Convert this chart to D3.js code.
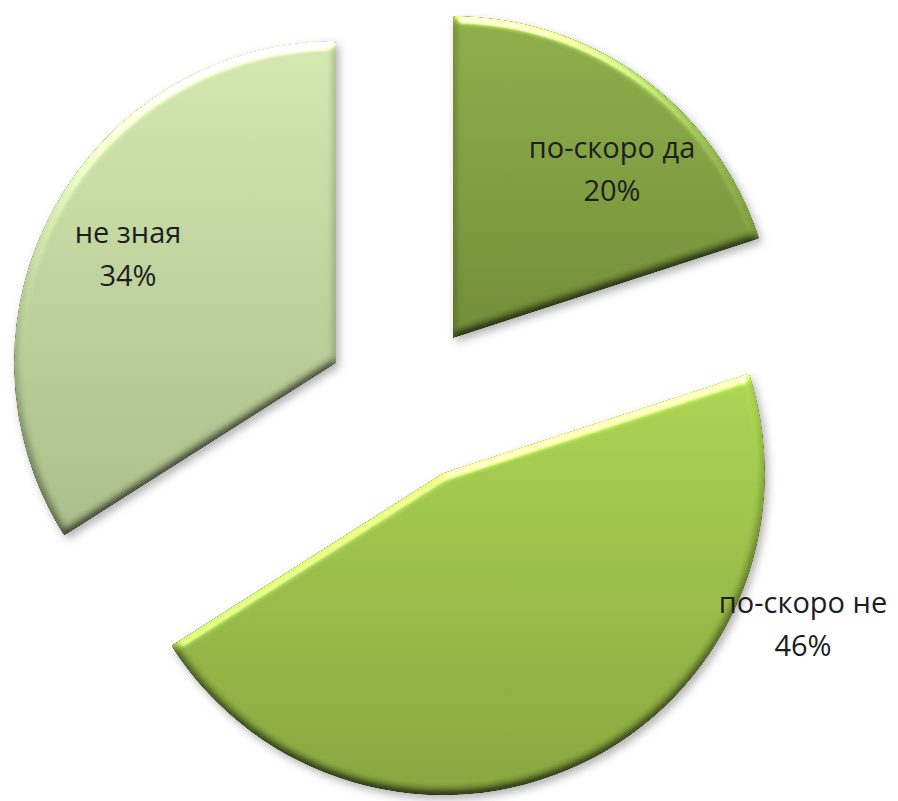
<!DOCTYPE html>
<html>
<head>
<meta charset="utf-8">
<script src="https://cdn.jsdelivr.net/npm/d3@7"></script>
<style>
  html, body { margin: 0; padding: 0; background: #ffffff; }
  svg { display: block; }
</style>
</head>
<body>
<svg id="chart" width="898" height="801"></svg>
<script>
// Survey answers and their shares (%)
const categories = ["по-скоро да", "по-скоро не", "не зная"];
const shares = [20, 46, 34];

// Layout
const width = 898, height = 801;
const radius = 322;
const center = [406, 403];
// each slice is pulled away from the pie centre by its own offset
const explodeOffsets = [[47, -65], [37, 70], [-70, -40]];
// label anchor (first line baseline) relative to the slice origin
const labelOffsets = [[159, -180], [360, 140], [-208, -120]];
const lineGap = 43;
// top/bottom gradient stops per slice
const fillStops = [
  ["#8aab46", "#6d8a35"],
  ["#a8d050", "#83a23c"],
  ["#d0e3ac", "#a6b986"]
];

const svg = d3.select("#chart");
const defs = svg.append("defs");

// Soft bevel + drop shadow
const f = defs.append("filter")
  .attr("id", "bevel")
  .attr("x", "-10%").attr("y", "-10%")
  .attr("width", "125%").attr("height", "125%")
  .attr("color-interpolation-filters", "sRGB");
f.append("feGaussianBlur").attr("in", "SourceAlpha").attr("stdDeviation", 4).attr("result", "blur");
const diff = f.append("feDiffuseLighting")
  .attr("in", "blur").attr("surfaceScale", 3).attr("diffuseConstant", 1)
  .attr("lighting-color", "#ffffff").attr("result", "diff");
diff.append("feDistantLight").attr("azimuth", 270).attr("elevation", 45);
f.append("feComposite").attr("in", "diff").attr("in2", "SourceAlpha").attr("operator", "in").attr("result", "diffIn");
f.append("feComposite").attr("in", "SourceGraphic").attr("in2", "diffIn")
  .attr("operator", "arithmetic").attr("k1", 1.414).attr("k2", 0).attr("k3", 0).attr("k4", 0)
  .attr("result", "lit");
const spec = f.append("feSpecularLighting")
  .attr("in", "blur").attr("surfaceScale", 5).attr("specularConstant", 0.6)
  .attr("specularExponent", 24).attr("lighting-color", "#ffffff").attr("result", "spec");
spec.append("feDistantLight").attr("azimuth", 270).attr("elevation", 30);
f.append("feComposite").attr("in", "spec").attr("in2", "SourceAlpha").attr("operator", "in").attr("result", "specIn");
f.append("feComposite").attr("in", "lit").attr("in2", "specIn")
  .attr("operator", "arithmetic").attr("k1", 0).attr("k2", 1).attr("k3", 1).attr("k4", 0)
  .attr("result", "bev");
f.append("feGaussianBlur").attr("in", "SourceAlpha").attr("stdDeviation", 4).attr("result", "sblur");
f.append("feOffset").attr("in", "sblur").attr("dx", 3).attr("dy", 4).attr("result", "soff");
f.append("feFlood").attr("flood-color", "#000000").attr("flood-opacity", 0.3).attr("result", "scol");
f.append("feComposite").attr("in", "scol").attr("in2", "soff").attr("operator", "in").attr("result", "shadow");
const merge = f.append("feMerge");
merge.append("feMergeNode").attr("in", "shadow");
merge.append("feMergeNode").attr("in", "bev");

fillStops.forEach((stops, i) => {
  const g = defs.append("linearGradient")
    .attr("id", "grad" + i)
    .attr("x1", 0).attr("y1", 0).attr("x2", 0).attr("y2", 1);
  g.append("stop").attr("offset", "0%").attr("stop-color", stops[0]);
  g.append("stop").attr("offset", "100%").attr("stop-color", stops[1]);
});

const data = categories.map((c, i) => ({ category: c, value: shares[i], index: i }));

const pie = d3.pie().sort(null).value(d => d.value).startAngle(0).endAngle(2 * Math.PI);
const arc = d3.arc().innerRadius(0).outerRadius(radius).cornerRadius(2);
const arcs = pie(data);

const slices = svg.append("g")
  .attr("transform", `translate(${center[0]},${center[1]})`)
  .selectAll("g.slice")
  .data(arcs)
  .join("g")
  .attr("class", "slice")
  .attr("transform", d => `translate(${explodeOffsets[d.index][0]},${explodeOffsets[d.index][1]})`);

slices.append("path")
  .attr("d", arc)
  .attr("fill", d => `url(#grad${d.index})`)
  .attr("filter", "url(#bevel)");

const labels = slices.append("text")
  .attr("text-anchor", "middle")
  .attr("font-family", "'Open Sans', 'Noto Sans', sans-serif")
  .attr("font-size", 29)
  .attr("fill", "#1e1e1e");

labels.append("tspan")
  .attr("x", d => labelOffsets[d.index][0])
  .attr("y", d => labelOffsets[d.index][1])
  .text(d => d.data.category);

labels.append("tspan")
  .attr("x", d => labelOffsets[d.index][0])
  .attr("y", d => labelOffsets[d.index][1] + lineGap)
  .text(d => d3.format(".0f")(d.data.value) + "%");
</script>
</body>
</html>
